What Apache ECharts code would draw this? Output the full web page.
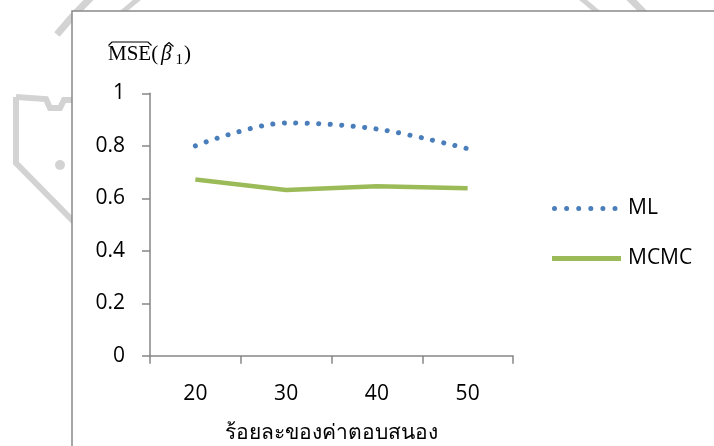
<!DOCTYPE html>
<html>
<head>
<meta charset="utf-8">
<script src="https://cdn.jsdelivr.net/npm/echarts@6/dist/echarts.min.js"></script>
<style>
html,body{margin:0;padding:0;background:#fff;}
#chart{width:714px;height:446px;}
</style>
</head>
<body>
<div id="chart"></div>
<script>
var categories = ['20', '30', '40', '50'];
var mlValues = [0.80, 0.887, 0.864, 0.789];
var mcmcValues = [0.672, 0.632, 0.646, 0.638];
var yTicks = [0, 0.2, 0.4, 0.6, 0.8, 1];
var xAxisTitle = 'ร้อยละของค่าตอบสนอง';
var seriesNames = ['ML', 'MCMC'];

var chart = echarts.init(document.getElementById('chart'));
var labelFont = '"Open Sans", "Noto Sans", sans-serif';
var serif = '"Liberation Serif", "DejaVu Serif", serif';
var wm = '#d3d3d3';
var blue = '#4A7EBB';
var green = '#9BBB59';

// dotted legend icon: six round dots
function dotsPath() {
  var p = '';
  for (var i = 0; i < 6; i++) {
    var cx = 2.5 + i * 12.1;
    p += 'M' + (cx - 2.5) + ' 2.5 a2.5 2.5 0 1 0 5 0 a2.5 2.5 0 1 0 -5 0 ';
  }
  p += 'M69 0 M69 5';
  return 'path://' + p;
}

chart.setOption({
  animation: false,
  backgroundColor: '#fff',
  graphic: [
    // faint watermark behind the chart frame
    { type: 'arc', z: -20, shape: { cx: 360, cy: 280, r: 390, startAngle: -141 * Math.PI / 180, endAngle: -35 * Math.PI / 180, clockwise: true }, style: { fill: 'none', stroke: wm, lineWidth: 7 } },
    { type: 'arc', z: -20, shape: { cx: 360, cy: 280, r: 358, startAngle: -140 * Math.PI / 180, endAngle: -40 * Math.PI / 180, clockwise: true }, style: { fill: 'none', stroke: wm, lineWidth: 5 } },
    { type: 'polyline', z: -20, shape: { points: [[16, 97], [46, 99], [50, 108], [60, 108], [64, 100], [74, 100]] }, style: { fill: 'none', stroke: wm, lineWidth: 6 } },
    { type: 'polyline', z: -20, shape: { points: [[16, 97], [16, 163], [74, 222]] }, style: { fill: 'none', stroke: wm, lineWidth: 6 } },
    { type: 'circle', z: -20, shape: { cx: 60, cy: 165, r: 5 }, style: { fill: wm } },
    // chart frame
    { type: 'rect', z: -10, shape: { x: 72, y: 11, width: 660, height: 460 }, style: { fill: '#fff', stroke: '#898989', lineWidth: 1.5 } },
    // y axis title: MSE^(beta^_1)
    { type: 'text', z: 10, x: 108, y: 44, style: { text: 'MSE(', font: '21px ' + serif, fill: '#000' } },
    { type: 'text', z: 10, x: 161, y: 44, style: { text: 'β', font: 'italic 21px ' + serif, fill: '#000' } },
    { type: 'text', z: 10, x: 175.5, y: 53, style: { text: '1', font: '15px ' + serif, fill: '#000' } },
    { type: 'text', z: 10, x: 184, y: 44, style: { text: ')', font: '21px ' + serif, fill: '#000' } },
    { type: 'polyline', z: 10, shape: { points: [[108.5, 45.5], [112, 42], [148, 42], [151.5, 45.5]] }, style: { fill: 'none', stroke: '#000', lineWidth: 1.2 } },
    { type: 'polyline', z: 10, shape: { points: [[164.5, 46.5], [169, 42.5], [173.5, 46.5]] }, style: { fill: 'none', stroke: '#000', lineWidth: 1.2 } }
  ],
  grid: { left: 150, right: 201, top: 93.3, bottom: 90.2, containLabel: false, outerBoundsMode: 'none' },
  legend: {
    orient: 'vertical', left: 547, top: 193, itemGap: 29,
    itemWidth: 69, itemHeight: 5,
    textStyle: { fontSize: 21, fontFamily: labelFont, color: '#000', padding: [0, 0, 0, 2] },
    data: [
      { name: seriesNames[0], icon: dotsPath(), itemStyle: { color: blue } },
      { name: seriesNames[1], icon: 'rect', itemStyle: { color: green } }
    ]
  },
  xAxis: {
    type: 'category', data: categories, boundaryGap: true,
    axisLine: { lineStyle: { color: '#868686', width: 1.5 } },
    axisTick: { show: true, length: 8, alignWithLabel: false, lineStyle: { color: '#868686', width: 1.5 } },
    axisLabel: { fontSize: 21, fontFamily: labelFont, color: '#000', margin: 28 },
    name: xAxisTitle, nameLocation: 'middle', nameGap: 67,
    nameTextStyle: { fontSize: 21, fontFamily: labelFont, color: '#000' }
  },
  yAxis: {
    type: 'value', min: yTicks[0], max: yTicks[yTicks.length - 1], interval: 0.2,
    splitLine: { show: false },
    axisLine: { show: true, lineStyle: { color: '#868686', width: 1.5 } },
    axisTick: { show: true, length: 8, lineStyle: { color: '#868686', width: 1.5 } },
    axisLabel: { fontSize: 21, fontFamily: labelFont, color: '#000', margin: 25,
      formatter: function (v) { return String(Math.round(v * 10) / 10); } }
  },
  series: [
    {
      name: seriesNames[0], type: 'line', data: mlValues, smooth: 0.33,
      symbol: 'none', showSymbol: false,
      itemStyle: { color: blue },
      lineStyle: { color: blue, width: 5, type: [0.1, 11.4], cap: 'round' }
    },
    {
      name: seriesNames[1], type: 'line', data: mcmcValues, smooth: false,
      symbol: 'none', showSymbol: false,
      itemStyle: { color: green },
      lineStyle: { color: green, width: 4.5 }
    }
  ]
});
</script>
</body>
</html>
